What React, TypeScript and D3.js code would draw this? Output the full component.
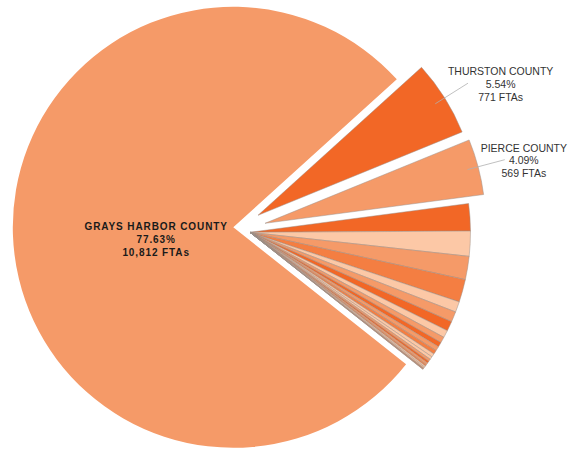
import React from "react";
import * as d3 from "d3";

// ---- data ----
const counties = [
  "GRAYS HARBOR COUNTY", "THURSTON COUNTY", "PIERCE COUNTY",
  "MASON COUNTY", "KING COUNTY", "PACIFIC COUNTY", "LEWIS COUNTY",
  "SNOHOMISH COUNTY", "KITSAP COUNTY", "CLARK COUNTY",
  "SPOKANE COUNTY", "COWLITZ COUNTY", "JEFFERSON COUNTY", "CLALLAM COUNTY",
  "YAKIMA COUNTY", "WHATCOM COUNTY", "SKAGIT COUNTY", "ISLAND COUNTY",
  "BENTON COUNTY", "WAHKIAKUM COUNTY", "KITTITAS COUNTY", "FRANKLIN COUNTY",
  "WALLA WALLA COUNTY", "CHELAN COUNTY", "GRANT COUNTY", "DOUGLAS COUNTY",
];
const ftas = [
  10812, 771, 569,
  278, 255, 237, 232,
  108, 106, 100,
  75, 60, 50, 45, 40, 35, 30, 25, 22, 20, 16, 14, 12, 8, 5, 3,
];
const labeledCounties = ["GRAYS HARBOR COUNTY", "THURSTON COUNTY", "PIERCE COUNTY"];

// ---- style / layout ----
const W = 569, H = 451;
const CX = 250, CY = 232.3, R = 220.5;
const START_DEG = 128.4;
const PULL: Record<string, [number, number]> = {
  "GRAYS HARBOR COUNTY": [-16.7, -5],
  "THURSTON COUNTY": [8, -17],
  "PIERCE COUNTY": [15, -9],
};
const SALMON = "#F59A68", DARK = "#F26726", PEACH = "#FCC8A6", MEDIUM = "#F47E42";
const headColors = [SALMON, DARK, SALMON, DARK, PEACH, SALMON, MEDIUM, PEACH, SALMON, DARK];
const tailCycle = [PEACH, SALMON, DARK, SALMON, MEDIUM, PEACH];
const colorFor = (i: number) => (i < headColors.length ? headColors[i] : tailCycle[(i - headColors.length) % tailCycle.length]);

const LABEL_FONT = "Liberation Sans, Arial, sans-serif";

function measure(text: string, font: string): number {
  const c = document.createElement("canvas").getContext("2d");
  if (!c) return text.length * 6.6;
  c.font = font;
  return c.measureText(text).width;
}

export default function App() {
  const total = d3.sum(ftas);
  const data = counties.map((name, i) => ({ name, value: ftas[i] }));
  const pie = d3
    .pie<{ name: string; value: number }>()
    .sort(null)
    .value((d) => d.value)
    .startAngle((START_DEG * Math.PI) / 180)
    .endAngle((START_DEG * Math.PI) / 180 + 2 * Math.PI);
  const arcs = pie(data);
  const arcGen = d3.arc<d3.PieArcDatum<{ name: string; value: number }>>().innerRadius(0).outerRadius(R);

  const pct = (v: number) => ((v / total) * 100).toFixed(2) + "%";
  const fmt = d3.format(",");
  const pt = (a: number, r: number): [number, number] => [Math.sin(a) * r, -Math.cos(a) * r];

  return (
    <svg width={W} height={H} style={{ position: "absolute", left: 0, top: 0, background: "#fff" }}>
      {arcs.map((a, i) => {
        const [dx, dy] = PULL[a.data.name] || [0, 0];
        return (
          <path
            key={a.data.name}
            d={arcGen(a) || ""}
            transform={`translate(${CX + dx},${CY + dy})`}
            fill={colorFor(i)}
            stroke={i === 0 ? "none" : "#9a8f88"}
            strokeWidth={i === 0 ? 0 : 0.6}
            strokeOpacity={0.8}
          />
        );
      })}
      {arcs
        .filter((a) => labeledCounties.includes(a.data.name))
        .map((a, idx) => {
          const [dx, dy] = PULL[a.data.name] || [0, 0];
          const ox = CX + dx, oy = CY + dy;
          const mid = (a.startAngle + a.endAngle) / 2;
          const lines = [a.data.name, pct(a.data.value), fmt(a.data.value) + " FTAs"];
          if (idx === 0) {
            const [px, py] = pt(mid, R * 0.35);
            return (
              <g key={a.data.name} fontFamily={LABEL_FONT} fontWeight="bold" fontSize={10} fill="#1a1a1a" textAnchor="middle" letterSpacing={0.9}>
                {lines.map((t, k) => (
                  <text key={k} x={ox + px} y={oy + py - 3 + k * 13} dominantBaseline="central">{t}</text>
                ))}
              </g>
            );
          }
          const [sx, sy] = pt(mid, R * 0.95);
          const [ex, ey] = pt(mid, R * 1.125);
          const x0 = ox + ex, y0 = oy + ey;
          const w = measure(lines[0], `10.5px ${LABEL_FONT}`);
          const tx = Math.min(x0 - 20 + w / 2, W - 2 - w / 2);
          const offs = [-12, 0.8, 13.3];
          return (
            <g key={a.data.name}>
              <line x1={ox + sx} y1={oy + sy} x2={x0} y2={y0} stroke="#b0b0b0" strokeWidth={0.8} />
              <g fontFamily={LABEL_FONT} fontSize={10.5} fill="#333" textAnchor="middle">
                {lines.map((t, k) => (
                  <text key={k} x={tx} y={y0 + offs[k]} dominantBaseline="central">{t}</text>
                ))}
              </g>
            </g>
          );
        })}
    </svg>
  );
}
